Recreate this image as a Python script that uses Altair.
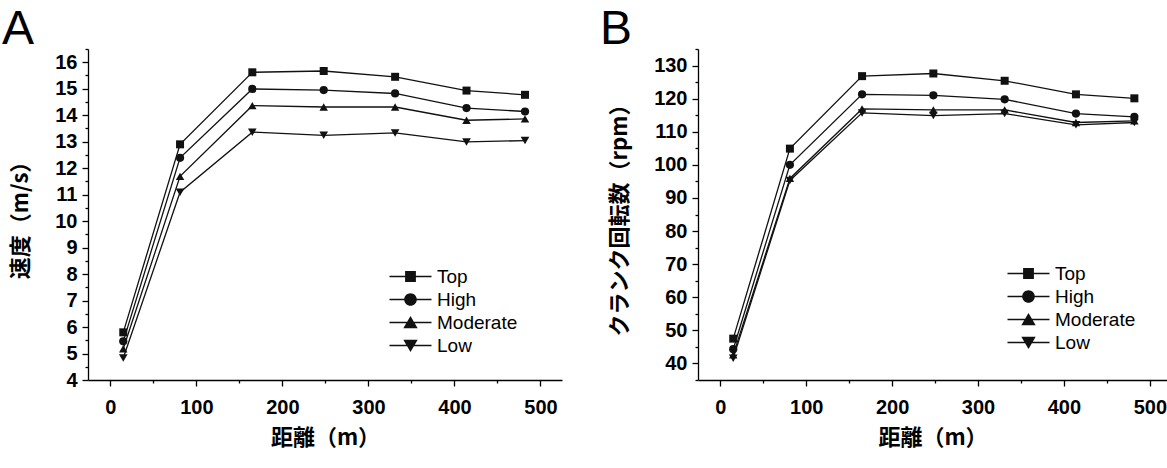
import altair as alt
import pandas as pd

# Measurement points along the course (m)
distance = [15, 81, 165, 248, 331, 414, 482]
groups = ["Top", "High", "Moderate", "Low"]

# Panel A: speed (m/s)
speed_top = [5.80, 12.90, 15.62, 15.67, 15.45, 14.93, 14.77]
speed_high = [5.46, 12.39, 14.99, 14.95, 14.82, 14.27, 14.14]
speed_moderate = [5.18, 11.69, 14.36, 14.31, 14.31, 13.81, 13.86]
speed_low = [4.83, 11.09, 13.36, 13.24, 13.33, 12.99, 13.04]

# Panel B: crank cadence (rpm)
cadence_top = [47.5, 104.9, 126.8, 127.6, 125.4, 121.3, 120.1]
cadence_high = [44.3, 100.0, 121.3, 121.0, 119.8, 115.5, 114.5]
cadence_moderate = [42.6, 95.9, 116.9, 116.6, 116.6, 112.8, 113.3]
cadence_low = [41.6, 95.3, 115.7, 114.9, 115.5, 112.1, 112.8]

x_ticks = list(range(0, 501, 50))
speed_ticks = [4 + 0.5 * i for i in range(26)]       # 4 .. 16.5
cadence_ticks = list(range(35, 136, 5))                # 35 .. 135

marker_shapes = ["square", "circle", "triangle-up", "triangle-down"]
marker_sizes = [64, 75, 105, 105]

# Legend glyphs: a short line segment with the group marker on it
seg = "M-3.5,-0.11H3.5V0.11H-3.5Z"
legend_shapes = [
    seg + "M-0.9,-0.9H0.9V0.9H-0.9Z",
    seg + "M-1.05,0A1.05,1.05 0 1,1 1.05,0A1.05,1.05 0 1,1 -1.05,0Z",
    seg + "M0,-1.1L1.2,0.95L-1.2,0.95Z",
    seg + "M0,1.1L-1.2,-0.95L1.2,-0.95Z",
]

INK = "#111111"


def long_table(series):
    rows = []
    for g, vals in zip(groups, series):
        for d, v in zip(distance, vals):
            rows.append({"distance": d, "group": g, "value": v})
    return pd.DataFrame(rows)


def major_test(step):
    return f"abs(datum.value / {step} - round(datum.value / {step})) < 1e-6"


def panel(df, letter, y_title, y_domain, y_ticks, y_step, x_max, width,
          legend_x, legend_y, letter_x, letter_y):
    x = alt.X(
        "distance:Q",
        scale=alt.Scale(domain=[-26, x_max], nice=False, zero=False),
        axis=alt.Axis(
            values=x_ticks,
            title="距離（m）",
            labelExpr=f"{major_test(100)} ? format(datum.value, 'd') : ''",
            tickSize={"condition": {"test": major_test(100), "value": 6}, "value": 3},
            labelPadding=11,
            titlePadding=10,
        ),
    )
    y = alt.Y(
        "value:Q",
        scale=alt.Scale(domain=y_domain, nice=False, zero=False),
        axis=alt.Axis(
            values=y_ticks,
            title=y_title,
            labelExpr=f"{major_test(y_step)} ? format(datum.value, 'd') : ''",
            tickSize={"condition": {"test": major_test(y_step), "value": 6}, "value": 3},
            labelPadding=5,
            titlePadding=22,
        ),
    )
    base = alt.Chart(df)
    lines = base.mark_line(color=INK, strokeWidth=1.3).encode(
        x=x, y=y, detail="group:N"
    )
    points = base.mark_point(filled=True, color=INK, opacity=1).encode(
        x=x,
        y=y,
        shape=alt.Shape("group:N", scale=alt.Scale(domain=groups, range=marker_shapes), legend=None),
        size=alt.Size("group:N", scale=alt.Scale(domain=groups, range=marker_sizes), legend=None),
    )
    key = base.mark_point(filled=True, color=INK, opacity=0, size=144).encode(
        x=x,
        y=y,
        shape=alt.Shape(
            "group:N",
            scale=alt.Scale(domain=groups, range=legend_shapes),
            legend=alt.Legend(
                orient="none",
                legendX=legend_x,
                legendY=legend_y,
                title=None,
                symbolSize=144,
                symbolFillColor=INK,
                symbolStrokeWidth=0,
                symbolOpacity=1,
                labelFont="Liberation Sans",
                labelFontSize=19,
                labelColor="black",
                labelOffset=17,
                rowPadding=3,
                padding=0,
            ),
        ),
    )
    # Panel letter in the top-left corner
    tag = alt.Chart(pd.DataFrame({"tag": [letter]})).mark_text(
        font="Liberation Sans",
        fontSize=48,
        fontWeight="normal",
        color="black",
        align="left",
        baseline="alphabetic",
    ).encode(text="tag:N", x=alt.value(letter_x), y=alt.value(letter_y))
    return (
        alt.layer(lines, points, key, tag)
        .resolve_scale(shape="independent", size="independent")
        .properties(width=width, height=331)
    )


speed_df = long_table([speed_top, speed_high, speed_moderate, speed_low])
cadence_df = long_table([cadence_top, cadence_high, cadence_moderate, cadence_low])

chart_a = panel(speed_df, "A", "速度（m/s）", [4, 16.5], speed_ticks, 1,
                525, 474, 313, 218, -86, -5)
chart_b = panel(cadence_df, "B", "クランク回転数（rpm）", [35, 135], cadence_ticks, 10,
                520, 469, 321, 215, -98, -5)

chart = (
    alt.hconcat(chart_a, chart_b, spacing=136, bounds="flush")
    .properties(padding={"left": 2, "top": 6, "right": 0, "bottom": 10})
    .configure_view(stroke=None)
    .configure_axis(
        grid=False,
        domainColor="black",
        domainWidth=1.3,
        tickColor="black",
        tickWidth=1.3,
        labelColor="black",
        labelFont="Liberation Sans",
        labelFontSize=20,
        labelFontWeight="bold",
        titleColor="black",
        titleFont="Noto Sans CJK JP",
        titleFontSize=22,
        titleFontWeight="bold",
    )
)

chart.save("out.html", embed_options={"renderer": "svg", "actions": False})
